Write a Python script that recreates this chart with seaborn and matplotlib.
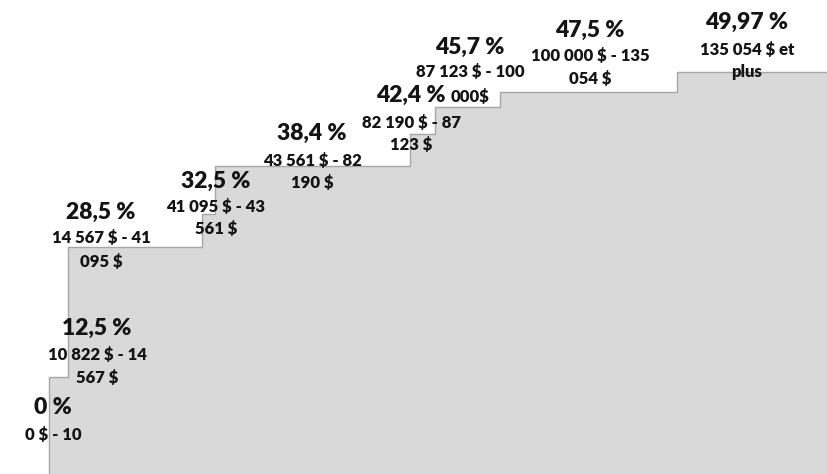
import matplotlib
matplotlib.use("Agg")
import matplotlib.pyplot as plt
import seaborn as sns
import pandas as pd

# Income thresholds ($) where each marginal rate starts, and the rates (%)
thresholds = [0, 10822, 14567, 41095, 43561, 82190, 87123, 100000, 135054]
rates = [0.0, 12.5, 28.5, 32.5, 38.4, 42.4, 45.7, 47.5, 49.97]

rate_labels = ["0 %", "12,5 %", "28,5 %", "32,5 %", "38,4 %",
               "42,4 %", "45,7 %", "47,5 %", "49,97 %"]
range_line1 = ["0 $ - 10", "10 822 $ - 14", "14 567 $ - 41", "41 095 $ - 43",
               "43 561 $ - 82", "82 190 $ - 87", "87 123 $ - 100",
               "100 000 $ - 135", "135 054 $ et"]
range_line2 = ["", "567 $", "095 $", "561 $", "190 $", "123 $", "000$",
               "054 $", "plus"]

# Label anchor positions in figure pixels: (x centre, rate y, line1 y, line2 y)
label_pos = [(53, 408, 435, 0), (97, 328, 355, 378), (101, 212, 238, 262),
             (216, 181, 207, 229), (312, 133, 161, 183), (411, 95, 123, 145),
             (470, 47, 72, 97), (590, 30, 56, 79), (747, 22, 50, 72)]

W, H = 827, 474
X_MIN, X_MAX = 1108, 164740
Y_MIN, Y_MAX = 0.61, 58.85

sns.set_theme(style="white")
plt.rcParams["font.family"] = ["Lato", "DejaVu Sans"]

fig = plt.figure(figsize=(W / 100, H / 100), dpi=100)
ax = fig.add_axes([0, 0, 1, 1])

steps = pd.DataFrame({"revenu": thresholds + [X_MAX + 5000],
                      "taux": rates + [rates[-1]]})

ax.fill_between(steps["revenu"], steps["taux"], Y_MIN - 5, step="post",
                color="#d9d9d9", linewidth=0, zorder=1)
sns.lineplot(data=steps, x="revenu", y="taux", drawstyle="steps-post",
             color="#a6a6a6", linewidth=1.0, ax=ax, zorder=2)

ax.set_xlim(X_MIN, X_MAX)
ax.set_ylim(Y_MIN, Y_MAX)
ax.set_axis_off()

txt_color = "#141414"
for (cx, y0, y1, y2), r, l1, l2 in zip(label_pos, rate_labels, range_line1, range_line2):
    fig.text(cx / W, 1 - y0 / H, r, ha="center", va="center",
             fontsize=16.5, fontweight="heavy", color=txt_color, zorder=5)
    fig.text(cx / W, 1 - y1 / H, l1, ha="center", va="center",
             fontsize=12, fontweight="heavy", color=txt_color, zorder=5)
    if l2:
        fig.text(cx / W, 1 - y2 / H, l2, ha="center", va="center",
                 fontsize=12, fontweight="heavy", color=txt_color, zorder=5)

fig.savefig("out.png", dpi=100)
